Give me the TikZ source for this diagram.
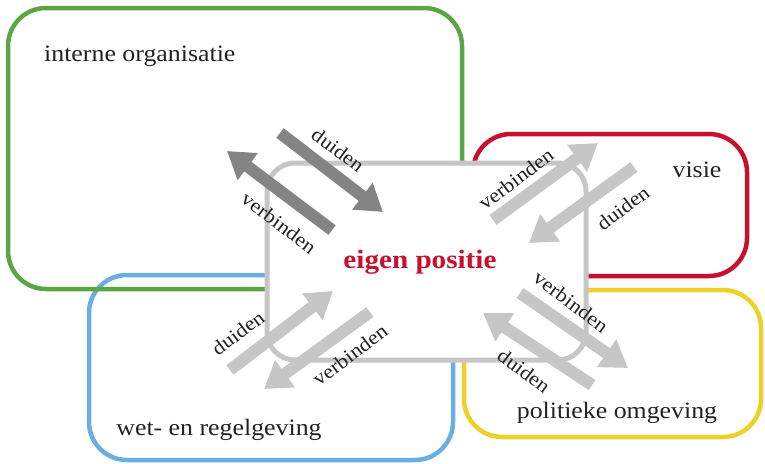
\documentclass[tikz,border=0pt]{standalone}
\usepackage{fontspec}
\setmainfont[FakeStretch=1.1]{Liberation Serif}
\usetikzlibrary{arrows.meta}
\definecolor{boxgreen}{HTML}{5BA545}
\definecolor{boxred}{HTML}{C8102E}
\definecolor{boxblue}{HTML}{6AAEE2}
\definecolor{boxyellow}{HTML}{EFD02A}
\definecolor{lightarrow}{HTML}{C6C6C6}
\definecolor{darkarrow}{HTML}{848484}
\definecolor{labeltext}{HTML}{222222}
\tikzset{
  area/.style={line width=4.5pt, rounded corners=38pt},
  core/.style={draw=lightarrow, fill=white, line width=5pt, rounded corners=28pt},
  flow/.style={line width=12pt, -{Triangle[length=26pt,width=32pt]}},
  flowlight/.style={flow, draw=lightarrow},
  flowdark/.style={flow, draw=darkarrow},
  arealabel/.style={font=\fontsize{23.5}{26}\selectfont, text=labeltext, inner sep=0pt},
  flowlabel/.style={font=\fontsize{20}{22}\selectfont, text=labeltext, inner sep=0pt},
}
\begin{document}
\begin{tikzpicture}[x=1pt, y=-1pt]
\useasboundingbox (0,0) rectangle (765,463);
% context areas
\draw[area, boxblue] (89,275) rectangle (453,460);
\draw[area, boxyellow] (464,290) rectangle (761,437);
\draw[area, boxred] (473,134) rectangle (747,276);
\draw[area, boxgreen] (8,8) rectangle (462,289);
% central position
\draw[core] (267,163) rectangle (586,360);
\node[font=\fontsize{26.5}{30}\selectfont\bfseries, text=boxred] (pos) at (420,262) {eigen positie};
% area names
\node[arealabel, anchor=west] (org) at (44,56) {interne organisatie};
\node[arealabel] (vis) at (697,170) {visie};
\node[arealabel] (wet) at (219,430) {wet- en regelgeving};
\node[arealabel] (pol) at (617,413) {politieke omgeving};
% arrow end points
\coordinate (a1s) at (280,133); \coordinate (a1e) at (383,212);
\coordinate (a2s) at (332,230); \coordinate (a2e) at (227,151);
\coordinate (b1s) at (493,220); \coordinate (b1e) at (598,143);
\coordinate (b2s) at (634,167); \coordinate (b2e) at (529,243);
\coordinate (c1s) at (230,370); \coordinate (c1e) at (333,291);
\coordinate (c2s) at (370,312); \coordinate (c2e) at (264,389);
\coordinate (d1s) at (520,293); \coordinate (d1e) at (628,368);
\coordinate (d2s) at (592,385); \coordinate (d2e) at (483,313);
% interne organisatie
\draw[flowdark] (a1s) -- (a1e);
\draw[flowdark] (a2s) -- (a2e);
\node[flowlabel, rotate=-37] (la1) at (338,150) {duiden};
\node[flowlabel, rotate=-37] (la2) at (279,223) {verbinden};
% visie
\draw[flowlight] (b1s) -- (b1e);
\draw[flowlight] (b2s) -- (b2e);
\node[flowlabel, rotate=37] (lb1) at (516,179) {verbinden};
\node[flowlabel, rotate=37] (lb2) at (623,208) {duiden};
% wet- en regelgeving
\draw[flowlight] (c1s) -- (c1e);
\draw[flowlight] (c2s) -- (c2e);
\node[flowlabel, rotate=37] (lc1) at (238,333) {duiden};
\node[flowlabel, rotate=37] (lc2) at (350,355) {verbinden};
% politieke omgeving
\draw[flowlight] (d1s) -- (d1e);
\draw[flowlight] (d2s) -- (d2e);
\node[flowlabel, rotate=-37] (ld1) at (571,302) {verbinden};
\node[flowlabel, rotate=-37] (ld2) at (524,371) {duiden};
\end{tikzpicture}
\end{document}
